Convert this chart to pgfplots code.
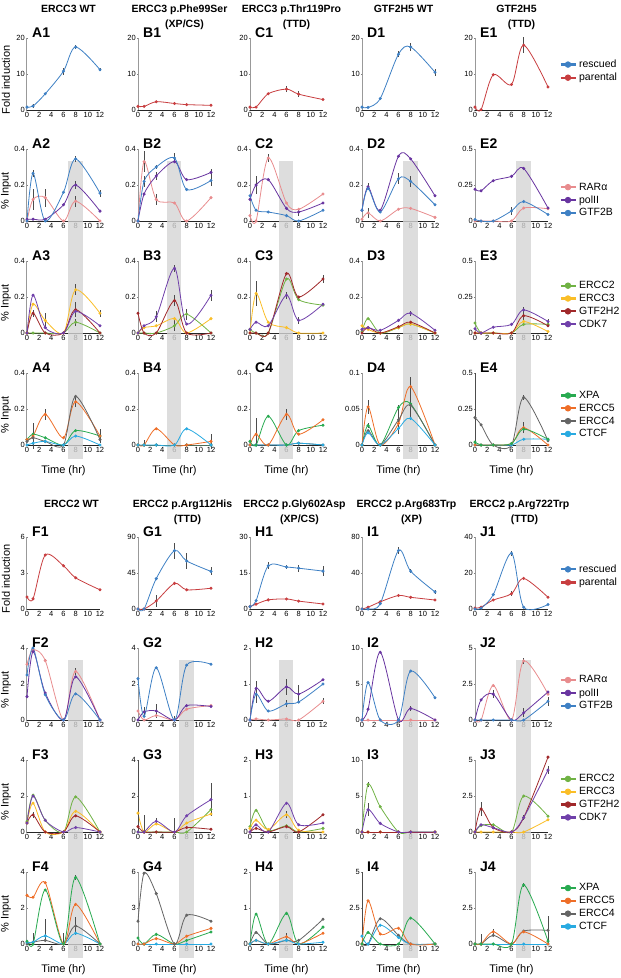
\documentclass[border=0pt]{standalone}
\usepackage{fontspec}
\setmainfont{Liberation Sans}
\usepackage{pgfplots}
\pgfplotsset{compat=1.18}

\definecolor{cRes}{RGB}{62,128,196}
\definecolor{cPar}{RGB}{200,62,64}
\definecolor{cRAR}{RGB}{232,140,142}
\definecolor{cPol}{RGB}{104,52,160}
\definecolor{cGTF}{RGB}{62,128,196}
\definecolor{cE2}{RGB}{112,178,68}
\definecolor{cE3}{RGB}{250,190,40}
\definecolor{cH2}{RGB}{160,40,42}
\definecolor{cCDK}{RGB}{112,64,170}
\definecolor{cXPA}{RGB}{40,170,80}
\definecolor{cE5}{RGB}{238,110,40}
\definecolor{cE4}{RGB}{100,100,100}
\definecolor{cCT}{RGB}{40,170,225}
\definecolor{bandc}{RGB}{212,212,212}

\tikzset{plab/.style={anchor=base west,xshift=5pt,yshift=1pt,inner sep=0pt,font=\bfseries\fontsize{14}{14}\selectfont}}
% grey time window, x from #1 to #2, y in rel axis units from #3 to #4
\newcommand{\band}[4]{\fill[bandc,fill opacity=0.8] ({axis cs:#1,0}|-{rel axis cs:0,#3}) rectangle ({axis cs:#2,0}|-{rel axis cs:0,#4});}
% second title line, set a little to the right as in the figure
\newcommand{\tl}[1]{\\[1pt]\hspace*{10pt}#1}

\pgfplotsset{
  panel/.style={scale only axis,width=73pt,height=72pt,xmin=0,xmax=12,ymin=0,clip=false,
    axis x line=bottom,axis y line=left,
    x axis line style={-,black!85,line width=0.9pt},
    y axis line style={-,black!40,line width=1pt},
    xtick={0,2,...,12},xtick style={draw=none},ytick style={black!50},
    major tick length=2pt,
    tick label style={font=\fontsize{7.5}{8}\selectfont,inner sep=1pt},
    /pgf/number format/assume math mode=true,
    /pgf/number format/fixed,
    error bars/y dir=both,error bars/y explicit,error bars/error mark=none,
    error bars/error bar style={black!70,line width=0.45pt},
    title style={at={(axis description cs:0.5,1.42)},anchor=north,align=center,xshift=5pt,
      font=\bfseries\fontsize{10.5}{14}\selectfont},
    ylabel style={at={(axis description cs:-0.29,0.42)},anchor=center,font=\fontsize{11}{12}\selectfont},
    xlabel style={at={(axis description cs:0.5,-0.36)},anchor=center,font=\fontsize{11}{12}\selectfont},
    legend style={draw=none,fill=none,font=\fontsize{10.5}{12}\selectfont,
      cells={anchor=west},anchor=west,inner sep=0pt},
    legend image code/.code={\draw[#1,line width=2.2pt] (0pt,0pt) -- (15pt,0pt); \fill[#1] (7pt,0pt) circle (2.8pt);},
  },
  lo/.style={title style={at={(axis description cs:0.5,1.48)},xshift=3pt}},
  ser/.style={smooth,mark=*,mark size=1.1pt,line width=0.8pt},
  resc/.style={ser,color=cRes}, par/.style={ser,color=cPar},
  rar/.style={ser,color=cRAR}, pol/.style={ser,color=cPol}, gtf/.style={ser,color=cGTF},
  ea/.style={ser,color=cE2}, eb/.style={ser,color=cE3}, hh/.style={ser,color=cH2}, cdk/.style={ser,color=cCDK},
  xpa/.style={ser,color=cXPA}, ef/.style={ser,color=cE5}, ed/.style={ser,color=cE4}, ct/.style={ser,color=cCT},
}

\begin{document}
\begin{tikzpicture}
\useasboundingbox (0pt,0pt) rectangle (621pt,-978pt);

%================ ROW 1 ================
\begin{axis}[panel,at={(27pt,-110pt)},ymax=20,ytick={0,10,20},title={ERCC3 WT},ylabel={Fold induction}]
\node[plab] at (rel axis cs:0,1) {A1};
\addplot[resc] coordinates {(0,0.8) (1,1.1) +- (0,0.6) (3,4.5) (6,10.8) +- (0,1) (8,17.5) +- (0,0.5) (12,11.2) +- (0,0.5)};
\end{axis}
\begin{axis}[panel,at={(138pt,-110pt)},ymax=20,ytick={0,10,20},title={ERCC3 p.Phe99Ser\tl{(XP/CS)}}]
\node[plab] at (rel axis cs:0,1) {B1};
\addplot[par] coordinates {(0,1) (1,1) (3,2.3) (6,1.8) (8,1.5) (12,1.3)};
\end{axis}
\begin{axis}[panel,at={(250pt,-110pt)},ymax=20,ytick={0,10,20},title={ERCC3 p.Thr119Pro\tl{(TTD)}}]
\node[plab] at (rel axis cs:0,1) {C1};
\addplot[par] coordinates {(0,0.8) (1,0.8) (3,4.5) (6,5.8) +- (0,0.8) (8,4.4) +- (0,0.8) (12,2.9)};
\end{axis}
\begin{axis}[panel,at={(362pt,-110pt)},ymax=20,ytick={0,10,20},title={GTF2H5 WT}]
\node[plab] at (rel axis cs:0,1) {D1};
\addplot[resc] coordinates {(0,0.8) (1,0.7) (3,3.2) (6,15.5) +- (0,0.8) (8,17.5) +- (0,1.2) (12,10.5) +- (0,1)};
\end{axis}
\begin{axis}[panel,at={(475pt,-110pt)},ymax=20,ytick={0,10,20},title={GTF2H5\tl{(TTD)}},legend style={at={(1.16,0.54)}}]
\node[plab] at (rel axis cs:0,1) {E1};
\addlegendimage{resc}\addlegendimage{par}
\addplot[par] coordinates {(0,0.8) (1,0.1) (3,9.8) (6,7.1) (8,18) +- (0,2.3) (12,6.4)};
\legend{rescued,parental}
\end{axis}

%================ ROW 2 ================
\begin{axis}[panel,at={(27pt,-221pt)},ymax=0.4,ytick={0,0.2,0.4},ylabel={\% Input}]
\band{6.75}{9.15}{0.83}{-0.5556}
\node[plab] at (rel axis cs:0,1) {A2};
\addplot[rar] coordinates {(0,0) (1,0.12) +- (0,0.06) (3,0.13) +- (0,0.05) (6,0) (8,0.11) +- (0,0.03) (12,0)};
\addplot[pol] coordinates {(0,0.01) (1,0.01) (3,0.01) (6,0.09) (8,0.2) +- (0,0.02) (12,0.055)};
\addplot[gtf] coordinates {(0,0) (1,0.265) +- (0,0.02) (3,0) (6,0.16) (8,0.345) +- (0,0.015) (12,0.155) +- (0,0.02)};
\end{axis}
\begin{axis}[panel,at={(138pt,-221pt)},ymax=0.4,ytick={0,0.2,0.4}]
\band{4.75}{7.15}{0.83}{-0.5556}
\node[plab] at (rel axis cs:0,1) {B2};
\addplot[rar] coordinates {(0,0) (1,0.33) +- (0,0.06) (3,0.12) +- (0,0.03) (6,0.1) (8,0) (12,0.13)};
\addplot[pol] coordinates {(0,0) (1,0.15) (3,0.25) +- (0,0.02) (6,0.33) (8,0.23) (12,0.27) +- (0,0.02)};
\addplot[gtf] coordinates {(0,0) (1,0.22) +- (0,0.03) (3,0.3) +- (0,0.01) (6,0.35) +- (0,0.03) (8,0.175) (12,0.225) +- (0,0.03)};
\end{axis}
\begin{axis}[panel,at={(250pt,-221pt)},ymax=0.4,ytick={0,0.2,0.4}]
\band{4.75}{7.15}{0.83}{-0.5556}
\node[plab] at (rel axis cs:0,1) {C2};
\addplot[rar] coordinates {(0,0.03) (1,0) (3,0.35) +- (0,0.02) (6,0.1) (8,0.065) (12,0.15)};
\addplot[pol] coordinates {(0,0.12) (1,0.2) +- (0,0.05) (3,0.23) (6,0.07) (8,0.05) +- (0,0.02) (12,0.1)};
\addplot[gtf] coordinates {(0,0.14) (1,0.06) (3,0.05) (6,0.03) (8,0) (12,0.06)};
\end{axis}
\begin{axis}[panel,at={(362pt,-221pt)},ymax=0.4,ytick={0,0.2,0.4}]
\band{6.75}{9.15}{0.83}{-0.5556}
\node[plab] at (rel axis cs:0,1) {D2};
\addplot[rar] coordinates {(0,0.01) (1,0.045) +- (0,0.03) (3,0) (6,0.065) (8,0.07) (12,0.02)};
\addplot[pol] coordinates {(0,0.06) (1,0.19) +- (0,0.02) (3,0.06) (6,0.36) (8,0.345) (12,0.14)};
\addplot[gtf] coordinates {(0,0.06) (1,0.18) (3,0.05) (6,0.235) +- (0,0.03) (8,0.22) +- (0,0.03) (12,0.09)};
\end{axis}
\begin{axis}[panel,at={(475pt,-221pt)},ymax=0.5,ytick={0,0.25,0.5},legend style={at={(1.16,0.29)}}]
\band{6.75}{9.15}{0.83}{-0.5556}
\node[plab] at (rel axis cs:0,1) {E2};
\addlegendimage{rar}\addlegendimage{pol}\addlegendimage{gtf}
\addplot[rar] coordinates {(0,0) (1,0) (3,0) (6,0) (8,0.09) (12,0.085)};
\addplot[pol] coordinates {(0,0.22) (1,0.21) (3,0.28) (6,0.31) (8,0.365) (12,0.09)};
\addplot[gtf] coordinates {(0,0.01) (1,0) (3,0) (6,0.07) +- (0,0.03) (8,0.135) (12,0.045)};
\legend{RARα,polII,GTF2B}
\end{axis}

%================ ROW 3 ================
\begin{axis}[panel,at={(27pt,-333pt)},ymax=0.4,ytick={0,0.2,0.4},ylabel={\% Input}]
\band{6.75}{9.15}{1}{-0.5556}
\node[plab] at (rel axis cs:0,1) {A3};
\addplot[ea] coordinates {(0,0) (1,0) (3,0) (6,0) (8,0.06) +- (0,0.02) (12,0)};
\addplot[eb] coordinates {(0,0) (1,0.16) (3,0.07) +- (0,0.04) (6,0) (8,0.24) +- (0,0.03) (12,0.11) +- (0,0.02)};
\addplot[hh] coordinates {(0,0) (1,0.11) +- (0,0.02) (3,0) (6,0) (8,0.13) +- (0,0.04) (12,0)};
\addplot[cdk] coordinates {(0,0) (1,0.21) (3,0.03) (6,0) (8,0.12) (12,0.04)};
\end{axis}
\begin{axis}[panel,at={(138pt,-333pt)},ymax=0.4,ytick={0,0.2,0.4}]
\band{4.75}{7.15}{1}{-0.5556}
\node[plab] at (rel axis cs:0,1) {B3};
\addplot[ea] coordinates {(0,0) (1,0) (3,0) (6,0.04) +- (0,0.03) (8,0.105) +- (0,0.03) (12,0)};
\addplot[eb] coordinates {(0,0) (1,0.03) (3,0.04) (6,0.08) (8,0) (12,0.08)};
\addplot[hh] coordinates {(0,0.11) (1,0) (3,0) (6,0.18) +- (0,0.03) (8,0) (12,0)};
\addplot[cdk] coordinates {(0,0) (1,0.04) (3,0.09) +- (0,0.03) (6,0.36) +- (0,0.02) (8,0.05) (12,0.21) +- (0,0.03)};
\end{axis}
\begin{axis}[panel,at={(250pt,-333pt)},ymax=0.4,ytick={0,0.2,0.4}]
\band{4.75}{7.15}{1}{-0.5556}
\node[plab] at (rel axis cs:0,1) {C3};
\addplot[ea] coordinates {(0,0.02) (1,0) (3,0) (6,0.3) (8,0.185) (12,0.155)};
\addplot[eb] coordinates {(0,0) (1,0.22) +- (0,0.07) (3,0.06) (6,0.03) (8,0) (12,0)};
\addplot[hh] coordinates {(0,0) (1,0) (3,0) (6,0.33) (8,0.2) (12,0.3) +- (0,0.02)};
\addplot[cdk] coordinates {(0,0.02) (1,0.06) (3,0.04) (6,0.21) +- (0,0.02) (8,0.07) +- (0,0.02) (12,0.16)};
\end{axis}
\begin{axis}[panel,at={(362pt,-333pt)},ymax=0.4,ytick={0,0.2,0.4}]
\band{6.75}{9.15}{1}{-0.5556}
\node[plab] at (rel axis cs:0,1) {D3};
\addplot[ea] coordinates {(0,0.01) (1,0.08) (3,0) (6,0.03) (8,0.05) (12,0)};
\addplot[eb] coordinates {(0,0.04) (1,0.02) (3,0) (6,0.03) (8,0.05) (12,0)};
\addplot[hh] coordinates {(0,0) (1,0.03) (3,0) (6,0.035) (8,0.06) (12,0)};
\addplot[cdk] coordinates {(0,0.02) (1,0.03) (3,0.015) (6,0.07) (8,0.11) +- (0,0.015) (12,0.015)};
\end{axis}
\begin{axis}[panel,at={(475pt,-333pt)},ymax=0.5,ytick={0,0.25,0.5},legend style={at={(1.16,0.39)}}]
\band{6.75}{9.15}{1}{-0.5556}
\node[plab] at (rel axis cs:0,1) {E3};
\addlegendimage{ea}\addlegendimage{eb}\addlegendimage{hh}\addlegendimage{cdk}
\addplot[ea] coordinates {(0,0.07) (1,0) (3,0) (6,0) (8,0.06) (12,0.06)};
\addplot[eb] coordinates {(0,0) (1,0) (3,0) (6,0) (8,0.08) (12,0.01)};
\addplot[hh] coordinates {(0,0) (1,0) (3,0) (6,0) (8,0.12) +- (0,0.03) (12,0.05)};
\addplot[cdk] coordinates {(0,0.03) (1,0) (3,0.04) (6,0.06) (8,0.16) +- (0,0.02) (12,0.08) +- (0,0.02)};
\legend{ERCC2,ERCC3,GTF2H2,CDK7}
\end{axis}

%================ ROW 4 ================
\begin{axis}[panel,at={(27pt,-445pt)},ymax=0.4,ytick={0,0.2,0.4},ylabel={\% Input},xlabel={Time (hr)}]
\band{6.75}{9.15}{1}{-0.2}
\node[plab] at (rel axis cs:0,1) {A4};
\addplot[xpa] coordinates {(0,0.03) (1,0.06) (3,0.04) (6,0) (8,0.08) (12,0.05)};
\addplot[ef] coordinates {(0,0.03) (1,0.05) +- (0,0.07) (3,0.17) +- (0,0.03) (6,0.04) (8,0.24) +- (0,0.03) (12,0.05) +- (0,0.04)};
\addplot[ed] coordinates {(0,0.02) (1,0.04) (3,0.02) (6,0) (8,0.27) (12,0.03)};
\addplot[ct] coordinates {(0,0) (1,0.01) (3,0.02) (6,0) (8,0.05) (12,0)};
\end{axis}
\begin{axis}[panel,at={(138pt,-445pt)},ymax=0.4,ytick={0,0.2,0.4},xlabel={Time (hr)}]
\band{4.75}{7.15}{1}{-0.2}
\node[plab] at (rel axis cs:0,1) {B4};
\addplot[xpa] coordinates {(0,0) (1,0) (3,0) (6,0) (8,0) (12,0)};
\addplot[ed] coordinates {(0,0) (1,0) += (0,0.03) (3,0) (6,0) (8,0) (12,0)};
\addplot[ef] coordinates {(0,0) (1,0) (3,0.09) (6,0) (8,0) (12,0.02) +- (0,0.04)};
\addplot[ct] coordinates {(0,0) (1,0) (3,0) (6,0) (8,0.09) (12,0)};
\end{axis}
\begin{axis}[panel,at={(250pt,-445pt)},ymax=0.4,ytick={0,0.2,0.4},xlabel={Time (hr)}]
\band{4.75}{7.15}{1}{-0.2}
\node[plab] at (rel axis cs:0,1) {C4};
\addplot[ed] coordinates {(0,0) (1,0) (3,0) (6,0) (8,0.01) (12,0)};
\addplot[ct] coordinates {(0,0) (1,0) (3,0) (6,0) (8,0.01) (12,0)};
\addplot[xpa] coordinates {(0,0.02) (1,0) (3,0.16) (6,0) (8,0.08) (12,0.11)};
\addplot[ef] coordinates {(0,0) (1,0.06) += (0,0.09) -= (0,0.06) (3,0) (6,0.17) +- (0,0.03) (8,0.06) (12,0.14)};
\end{axis}
\begin{axis}[panel,at={(362pt,-445pt)},ymax=0.1,ytick={0,0.05,0.1},xlabel={Time (hr)}]
\band{6.75}{9.15}{1}{-0.2}
\node[plab] at (rel axis cs:0,1) {D4};
\addplot[xpa] coordinates {(0,0) (1,0.027) +- (0,0.004) (3,0) (6,0.052) (8,0.057) (12,0)};
\addplot[ef] coordinates {(0,0) (1,0.053) +- (0,0.01) (3,0) (6,0.03) (8,0.081) +- (0,0.013) (12,0)};
\addplot[ed] coordinates {(0,0) (1,0.02) (3,0) (6,0.035) +- (0,0.02) (8,0.055) +- (0,0.02) (12,0)};
\addplot[ct] coordinates {(0,0) (1,0.017) (3,0) (6,0.023) (8,0.037) (12,0)};
\end{axis}
\begin{axis}[panel,at={(475pt,-445pt)},ymax=0.5,ytick={0,0.25,0.5},xlabel={Time (hr)},legend style={at={(1.16,0.42)}}]
\band{6.75}{9.15}{1}{-0.2}
\node[plab] at (rel axis cs:0,1) {E4};
\addlegendimage{xpa}\addlegendimage{ef}\addlegendimage{ed}\addlegendimage{ct}
\addplot[ed] coordinates {(0,0.19) += (0,0.31) -= (0,0.19) (1,0.14) (3,0) (6,0) (8,0.33) +- (0,0.02) (12,0.03)};
\addplot[ct] coordinates {(0,0) (1,0) (3,0) (6,0) (8,0.04) (12,0.04)};
\addplot[ef] coordinates {(0,0) (1,0) (3,0) (6,0.01) (8,0.12) +- (0,0.04) (12,0)};
\addplot[xpa] coordinates {(0,0.02) (1,0) (3,0) (6,0.01) (8,0.11) (12,0.04)};
\legend{XPA,ERCC5,ERCC4,CTCF}
\end{axis}

%================ ROW 5 ================
\begin{axis}[panel,lo,at={(27pt,-609pt)},ymax=6,ytick={0,3,6},title={ERCC2 WT},ylabel={Fold induction}]
\node[plab] at (rel axis cs:0,1) {F1};
\addplot[par] coordinates {(0,1) (1,0.85) (3,4.5) (6,3.6) (8,2.6) (12,1.6)};
\end{axis}
\begin{axis}[panel,lo,at={(138pt,-609pt)},ymax=90,ytick={0,45,90},title={ERCC2 p.Arg112His\tl{(TTD)}}]
\node[plab] at (rel axis cs:0,1) {G1};
\addplot[par] coordinates {(0,0) (1,0) (3,10) +- (0,7) (6,32) (8,24) (12,26)};
\addplot[resc] coordinates {(0,0) (1,0) (3,38) (6,73) +- (0,10) (8,60) +- (0,10) (12,47) +- (0,5)};
\end{axis}
\begin{axis}[panel,lo,at={(250pt,-609pt)},ymax=30,ytick={0,15,30},title={ERCC2 p.Gly602Asp\tl{(XP/CS)}}]
\node[plab] at (rel axis cs:0,1) {H1};
\addplot[par] coordinates {(0,1) (1,2) (3,3.8) (6,4.2) (8,3.3) (12,2.1)};
\addplot[resc] coordinates {(0,1) (1,3.5) (3,18) +- (0,1.5) (6,17.5) +- (0,1) (8,17) +- (0,1.5) (12,15.8) +- (0,2)};
\end{axis}
\begin{axis}[panel,lo,at={(362pt,-609pt)},ymax=80,ytick={0,40,80},title={ERCC2 p.Arg683Trp\tl{(XP)}}]
\node[plab] at (rel axis cs:0,1) {I1};
\addplot[par] coordinates {(0,0) (1,2) (3,8) (6,15) (8,13) (12,10)};
\addplot[resc] coordinates {(0,0) (1,0) (3,6) (6,65) +- (0,4) (8,42) +- (0,2) (12,19) +- (0,2)};
\end{axis}
\begin{axis}[panel,lo,at={(475pt,-609pt)},ymax=40,ytick={0,20,40},title={ERCC2 p.Arg722Trp\tl{(TTD)}},legend style={at={(1.16,0.46)}}]
\node[plab] at (rel axis cs:0,1) {J1};
\addlegendimage{resc}\addlegendimage{par}
\addplot[par] coordinates {(0,0.5) (1,1) (3,5) (6,8.5) +- (0,1.5) (8,17) (12,6.5)};
\addplot[resc] coordinates {(0,0) (1,0.5) (3,8) +- (0,1) (6,31) +- (0,1.5) (8,1) (12,2.5)};
\legend{rescued,parental}
\end{axis}

%================ ROW 6 ================
\begin{axis}[panel,at={(27pt,-720pt)},ymax=4,ytick={0,2,4},ylabel={\% Input}]
\band{6.75}{9.15}{0.83}{-0.5556}
\node[plab] at (rel axis cs:0,1) {F2};
\addplot[rar] coordinates {(0,3.1) (1,3.9) (3,3.3) +- (0,0.1) (6,0) (8,2.7) +- (0,0.2) (12,0)};
\addplot[pol] coordinates {(0,1.3) (1,3.8) (3,1.5) (6,0) (8,2.4) (12,0)};
\addplot[gtf] coordinates {(0,2.5) (1,4) (3,1.4) (6,0) (8,1.45) (12,0)};
\end{axis}
\begin{axis}[panel,at={(138pt,-720pt)},ymax=4,ytick={0,2,4}]
\band{6.75}{9.15}{0.83}{-0.5556}
\node[plab] at (rel axis cs:0,1) {G2};
\addplot[rar] coordinates {(0,0.5) (1,0) (3,0.25) (6,0) (8,0.6) (12,0.8)};
\addplot[pol] coordinates {(0,0) (1,0.45) +- (0,0.3) (3,0.5) +- (0,0.4) (6,0) += (0,0.2) (8,0.8) (12,0.75)};
\addplot[gtf] coordinates {(0,2.3) (1,0.2) (3,2.9) (6,0) (8,3.05) (12,3.1)};
\end{axis}
\begin{axis}[panel,at={(250pt,-720pt)},ymax=2,ytick={0,1,2}]
\band{4.75}{7.15}{0.83}{-0.5556}
\node[plab] at (rel axis cs:0,1) {H2};
\addplot[rar] coordinates {(0,0) (1,0.03) (3,0) (6,0.03) (8,0) (12,0.52) +- (0,0.08)};
\addplot[pol] coordinates {(0,0) (1,0.88) +- (0,0.2) (3,0.52) (6,0.92) +- (0,0.22) (8,0.72) +- (0,0.25) (12,1.12)};
\addplot[gtf] coordinates {(0,0) (1,0.72) +- (0,0.25) (3,0.25) (6,0.45) +- (0,0.1) (8,0.5) (12,1.0)};
\end{axis}
\begin{axis}[panel,at={(362pt,-720pt)},ymax=10,ytick={0,5,10}]
\band{6.75}{9.15}{0.83}{-0.5556}
\node[plab] at (rel axis cs:0,1) {I2};
\addplot[rar] coordinates {(0,0) (1,0) (3,0) (6,0) (8,0) (12,0)};
\addplot[pol] coordinates {(0,0) (1,1.5) (3,9.4) (6,0) (8,1.6) +- (0,0.4) (12,0)};
\addplot[gtf] coordinates {(0,0) (1,5.2) (3,0) (6,0) (8,6.8) (12,3.1)};
\end{axis}
\begin{axis}[panel,at={(475pt,-720pt)},ymax=5,ytick={0,2.5,5},legend style={at={(1.16,0.375)}}]
\band{6.75}{9.15}{0.83}{-0.5556}
\node[plab] at (rel axis cs:0,1) {J2};
\addlegendimage{rar}\addlegendimage{pol}\addlegendimage{gtf}
\addplot[rar] coordinates {(0,0) (1,0) (3,2.4) (6,0) (8,4.1) +- (0,0.2) (12,1.8)};
\addplot[pol] coordinates {(0,0) (1,1.4) (3,1.8) +- (0,0.3) (6,0) (8,0.5) +- (0,0.3) (12,1.95)};
\addplot[gtf] coordinates {(0,0) (1,0) (3,0) (6,0) (8,0) (12,1.3) +- (0,0.3)};
\legend{RARα,polII,GTF2B}
\end{axis}

%================ ROW 7 ================
\begin{axis}[panel,at={(27pt,-832pt)},ymax=4,ytick={0,2,4},ylabel={\% Input}]
\band{6.75}{9.15}{1}{-0.5556}
\node[plab] at (rel axis cs:0,1) {F3};
\addplot[ea] coordinates {(0,0.6) (1,2.05) (3,0.65) (6,0) (8,1.95) (12,0)};
\addplot[eb] coordinates {(0,0.5) (1,1.6) (3,0) (6,0) (8,1.15) (12,0)};
\addplot[hh] coordinates {(0,0.5) (1,0.95) +- (0,0.15) (3,0) (6,0) (8,0.9) (12,0)};
\addplot[cdk] coordinates {(0,0.5) (1,2.0) (3,0.65) (6,0) (8,0.25) (12,0)};
\end{axis}
\begin{axis}[panel,at={(138pt,-832pt)},ymax=4,ytick={0,2,4}]
\band{6.75}{9.15}{1}{-0.5556}
\node[plab] at (rel axis cs:0,1) {G3};
\addplot[ea] coordinates {(0,0) (1,0) (3,0) (6,0) (8,0) (12,1.25)};
\addplot[eb] coordinates {(0,1.05) += (0,2.95) -= (0,1.05) (1,0) (3,0.45) (6,0) (8,0.5) (12,1.0)};
\addplot[hh] coordinates {(0,0.3) (1,0) (3,0) (6,0) (8,0.25) (12,0.15)};
\addplot[cdk] coordinates {(0,0) (1,0) += (0,0.95) (3,0.6) +- (0,0.2) (6,0) += (0,0.8) (8,0.9) (12,1.8) +- (0,0.9)};
\end{axis}
\begin{axis}[panel,at={(250pt,-832pt)},ymax=2,ytick={0,1,2}]
\band{4.75}{7.15}{1}{-0.5556}
\node[plab] at (rel axis cs:0,1) {H3};
\addplot[ea] coordinates {(0,0.15) (1,0.6) (3,0.05) (6,0.17) (8,0) (12,0.1)};
\addplot[eb] coordinates {(0,0.1) (1,0.33) (3,0.07) (6,0.48) +- (0,0.1) (8,0.05) (12,0)};
\addplot[hh] coordinates {(0,0) (1,0.1) (3,0) (6,0.15) (8,0) (12,0.48)};
\addplot[cdk] coordinates {(0,0) (1,0.2) (3,0) (6,0.8) (8,0.2) (12,0.25)};
\end{axis}
\begin{axis}[panel,at={(362pt,-832pt)},ymax=10,ytick={0,5,10}]
\band{6.75}{9.15}{1}{-0.5556}
\node[plab] at (rel axis cs:0,1) {I3};
\addplot[ea] coordinates {(0,0) (1,6.6) +- (0,0.3) (3,3.5) (6,0) (8,0) (12,0)};
\addplot[eb] coordinates {(0,0) (1,0) (3,0) (6,0) (8,0) (12,0)};
\addplot[hh] coordinates {(0,0) (1,0) (3,0) (6,0) (8,0) (12,0)};
\addplot[cdk] coordinates {(0,0) (1,3.1) +- (0,0.9) (3,1.2) (6,0) (8,0) (12,0)};
\end{axis}
\begin{axis}[panel,at={(475pt,-832pt)},ymax=5,ytick={0,2.5,5},legend style={at={(1.16,0.47)}}]
\band{6.75}{9.15}{1}{-0.5556}
\node[plab] at (rel axis cs:0,1) {J3};
\addlegendimage{ea}\addlegendimage{eb}\addlegendimage{hh}\addlegendimage{cdk}
\addplot[ea] coordinates {(0,0) (1,0.45) (3,0.5) (6,0) (8,2.5) (12,1.1)};
\addplot[eb] coordinates {(0,0) (1,0) (3,0) (6,0) (8,0) (12,0.85)};
\addplot[hh] coordinates {(0,0) (1,1.6) +- (0,0.5) (3,0.3) (6,0) (8,1.0) (12,5.2)};
\addplot[cdk] coordinates {(0,0) (1,0.5) (3,0.3) (6,0) (8,1.0) +- (0,0.2) (12,4.3) +- (0,0.3)};
\legend{ERCC2,ERCC3,GTF2H2,CDK7}
\end{axis}

%================ ROW 8 ================
\begin{axis}[panel,at={(27pt,-944pt)},ymax=4,ytick={0,2,4},ylabel={\% Input},xlabel={Time (hr)}]
\band{6.75}{9.15}{1}{-0.2}
\node[plab] at (rel axis cs:0,1) {F4};
\addplot[ed] coordinates {(0,0) (1,0.1) += (0,0.5) (3,0.2) += (0,1.2) (6,0) += (0,0.6) (8,1.0) +- (0,0.5) (12,0)};
\addplot[ct] coordinates {(0,0.1) (1,0.1) (3,0.45) (6,0) (8,0.6) (12,0)};
\addplot[ef] coordinates {(0,2.7) (1,2.6) (3,3.4) (6,0) (8,2.2) (12,0)};
\addplot[xpa] coordinates {(0,0.15) (1,0) (3,3.0) (6,0) (8,3.7) +- (0,0.15) (12,0)};
\end{axis}
\begin{axis}[panel,at={(138pt,-944pt)},ymax=6,ytick={0,3,6},xlabel={Time (hr)}]
\band{6.75}{9.15}{1}{-0.2}
\node[plab] at (rel axis cs:0,1) {G4};
\addplot[ct] coordinates {(0,0) (1,0) (3,0) (6,0) (8,0) (12,0)};
\addplot[xpa] coordinates {(0,0.5) (1,0) (3,0.8) (6,0) (8,0.3) (12,1.0)};
\addplot[ef] coordinates {(0,0) (1,0) (3,0.45) (6,0) (8,0.65) (12,1.3)};
\addplot[ed] coordinates {(0,1.9) (1,5.9) (3,4.2) (6,0) (8,2.4) (12,1.9)};
\end{axis}
\begin{axis}[panel,at={(250pt,-944pt)},ymax=2,ytick={0,1,2},xlabel={Time (hr)}]
\band{4.75}{7.15}{1}{-0.2}
\node[plab] at (rel axis cs:0,1) {H4};
\addplot[xpa] coordinates {(0,0) (1,0.83) (3,0) (6,0.85) (8,0) (12,0.47)};
\addplot[ed] coordinates {(0,0) (1,0.32) (3,0) (6,0.1) (8,0.1) (12,0.69)};
\addplot[ef] coordinates {(0,0) (1,0.1) (3,0) (6,0.2) +- (0,0.1) (8,0) (12,0.3)};
\addplot[ct] coordinates {(0,0) (1,0.1) (3,0) (6,0.1) (8,0) (12,0.05)};
\end{axis}
\begin{axis}[panel,at={(362pt,-944pt)},ymax=5,ytick={0,2.5,5},xlabel={Time (hr)}]
\band{6.75}{9.15}{1}{-0.2}
\node[plab] at (rel axis cs:0,1) {I4};
\addplot[ed] coordinates {(0,0) += (0,5) (1,0) (3,1.75) (6,0.6) (8,0) (12,0)};
\addplot[ct] coordinates {(0,0.55) (1,0) (3,1.3) (6,0.45) (8,0) (12,0)};
\addplot[ef] coordinates {(0,0) (1,3.0) (3,0.7) (6,1.1) (8,0) (12,0)};
\addplot[xpa] coordinates {(0,0) (1,0.8) (3,0) (6,0) (8,1.8) (12,0)};
\end{axis}
\begin{axis}[panel,at={(475pt,-944pt)},ymax=5,ytick={0,2.5,5},xlabel={Time (hr)},legend style={at={(1.16,0.51)}}]
\band{6.75}{9.15}{1}{-0.2}
\node[plab] at (rel axis cs:0,1) {J4};
\addlegendimage{xpa}\addlegendimage{ef}\addlegendimage{ed}\addlegendimage{ct}
\addplot[ct] coordinates {(0,0) (1,0) (3,0) (6,0) (8,0) (12,0)};
\addplot[ed] coordinates {(0,0) (1,0) += (0,0.7) (3,0.6) (6,0) (8,0.9) (12,0.95) +- (0,1)};
\addplot[ef] coordinates {(0,0) (1,0) (3,0.85) +- (0,0.2) (6,0) (8,0.85) (12,0)};
\addplot[xpa] coordinates {(0,0) (1,0) (3,0) (6,0) (8,4.1) +- (0,0.15) (12,0.2)};
\legend{XPA,ERCC5,ERCC4,CTCF}
\end{axis}
\end{tikzpicture}
\end{document}
